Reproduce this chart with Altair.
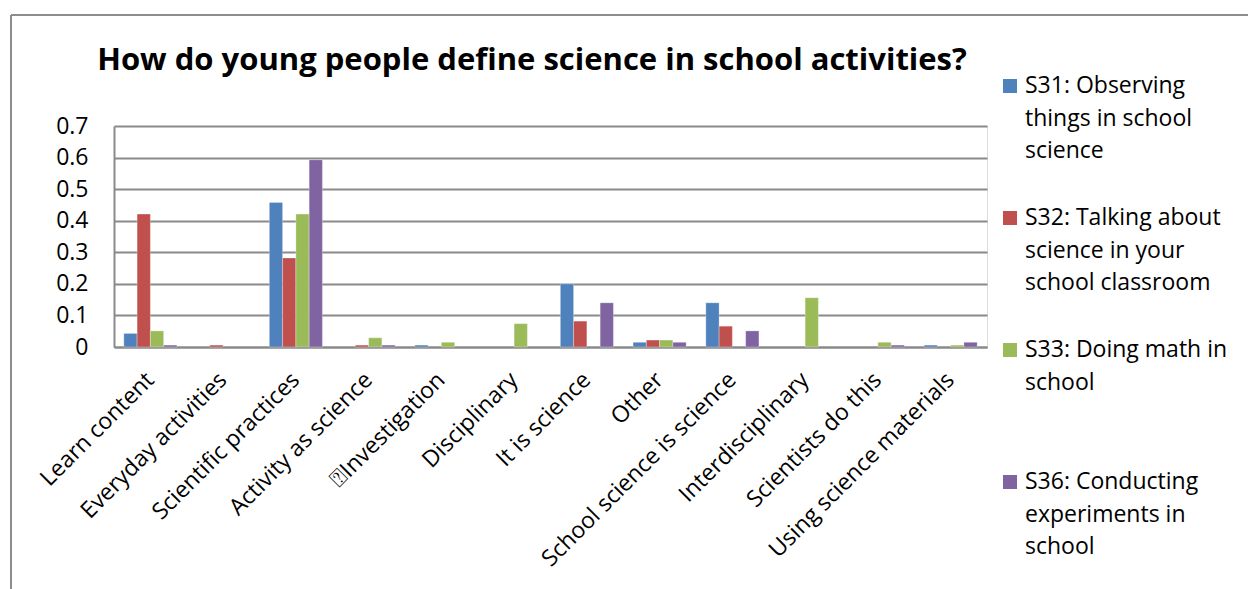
import altair as alt
import pandas as pd

TITLE = "How do young people define science in school activities?"

# Response categories (x axis)
categories = [
    "Learn content", "Everyday activities", "Scientific practices",
    "Activity as science", "\u2370Investigation", "Disciplinary",
    "It is science", "Other", "School science is science",
    "Interdisciplinary", "Scientists do this", "Using science materials",
]

# Survey items (series); "|" marks a line break in the legend
series = [
    "S31: Observing|things in school|science",
    "S32: Talking about|science in your|school classroom",
    "S33: Doing math in|school",
    "S36: Conducting|experiments in|school",
]
colors = ["#4F81BD", "#C0504D", "#9BBB59", "#8064A2"]

s31 = [0.043, 0.0, 0.458, 0.0, 0.006, 0.0, 0.200, 0.015, 0.140, 0.0, 0.0, 0.006]
s32 = [0.421, 0.006, 0.282, 0.006, 0.0, 0.0, 0.082, 0.022, 0.066, 0.0, 0.0, 0.0]
s33 = [0.051, 0.0, 0.421, 0.029, 0.015, 0.074, 0.0, 0.022, 0.0, 0.156, 0.015, 0.006]
s36 = [0.006, 0.0, 0.593, 0.006, 0.0, 0.0, 0.140, 0.015, 0.051, 0.0, 0.006, 0.015]

rows = []
for name, vals in zip(series, [s31, s32, s33, s36]):
    for cat, v in zip(categories, vals):
        rows.append({"category": cat, "series": name, "value": v})
df = pd.DataFrame(rows)
legend_df = pd.DataFrame({"series": series})
title_df = pd.DataFrame({"title": [TITLE]})

FONT = "Open Sans"
FS = 23
GRID = "#8a8a8a"

color_scale = alt.Scale(domain=series, range=colors)

bars = alt.Chart(df).transform_filter("datum.value > 0").mark_bar(
    stroke="white", strokeOpacity=0.5, strokeWidth=0.6
).encode(
    x=alt.X(
        "category:N", sort=categories, title=None,
        scale=alt.Scale(domain=categories, paddingInner=0.27, paddingOuter=0.135),
        axis=alt.Axis(
            labelAngle=-45, labelAlign="right", labelBaseline="middle",
            labelFontSize=FS, labelFont=FONT, labelColor="#000000",
            labelPadding=29, labelLimit=0, ticks=False,
            domainColor=GRID, domainWidth=2,
        ),
    ),
    xOffset=alt.XOffset("series:N", sort=series),
    y=alt.Y(
        "value:Q", title=None,
        scale=alt.Scale(domain=[0, 0.7], nice=False),
        axis=alt.Axis(
            values=[0, 0.1, 0.2, 0.3, 0.4, 0.5, 0.6, 0.7],
            labelExpr="datum.value == 0 ? '0' : format(datum.value, '.1f')",
            labelFontSize=FS, labelFont=FONT, labelColor="#000000",
            labelPadding=26, ticks=False,
            gridColor=GRID, gridWidth=2,
            domainColor=GRID, domainWidth=2,
        ),
    ),
    color=alt.Color("series:N", sort=series, scale=color_scale, legend=None),
)

# Legend drawn as its own layer: one row per series on a point scale
legend_y = alt.Y(
    "series:N", sort=series, axis=None,
    scale=alt.Scale(domain=series, range=[-40, 356], padding=0),
)
legend_swatch = alt.Chart(legend_df).mark_square(size=196, opacity=1).encode(
    x=alt.value(896),
    y=legend_y,
    color=alt.Color("series:N", scale=color_scale, legend=None),
)
legend_text = alt.Chart(legend_df).transform_calculate(
    lines="split(datum.series, '|')"
).mark_text(
    align="left", baseline="alphabetic", dy=7, fontSize=FS, font=FONT,
    lineHeight=32.5, color="#000000",
).encode(
    x=alt.value(911),
    y=legend_y,
    text="lines:N",
)

# Chart title
title = alt.Chart(title_df).mark_text(
    align="center", baseline="alphabetic", font=FONT, fontSize=31,
    fontWeight="bold", color="#000000",
).encode(x=alt.value(418), y=alt.value(-56), text="title:N")

# Outer frame of the chart area (left and top edges)
frame_left = alt.Chart(legend_df).mark_rule(color="#8c8c8c", strokeWidth=1.5).encode(
    x=alt.value(-103), y=alt.value(-111), y2=alt.value(470)
)
frame_top = alt.Chart(legend_df).mark_rule(color="#8c8c8c", strokeWidth=1.5).encode(
    x=alt.value(-103), x2=alt.value(1140), y=alt.value(-111)
)

chart = alt.layer(
    bars, legend_swatch, legend_text, title, frame_left, frame_top
).resolve_scale(y="independent").properties(
    width=873, height=221,
    autosize=alt.AutoSizeParams(type="none"),
    padding={"left": 114, "top": 126, "right": 261, "bottom": 242},
).configure_view(stroke=None).configure(background="white")

chart.save("out.html", embed_options={"renderer": "svg", "actions": False})
